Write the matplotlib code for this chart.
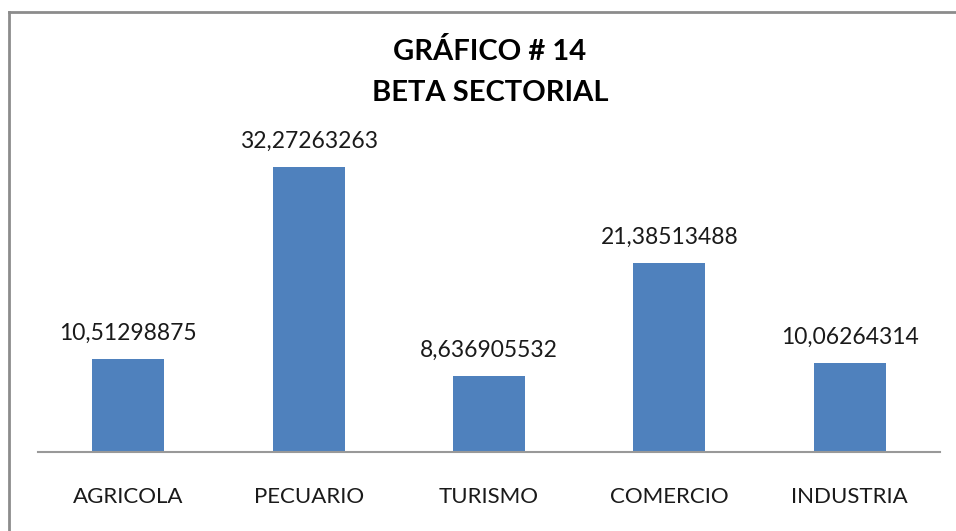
import matplotlib.pyplot as plt
from matplotlib.lines import Line2D

Sectores = ["AGRICOLA", "PECUARIO", "TURISMO", "COMERCIO", "INDUSTRIA"]
Beta     = [10.51298875, 32.27263263, 8.636905532, 21.38513488, 10.06264314]
Etiquetas = ["10,51298875", "32,27263263", "8,636905532", "21,38513488", "10,06264314"]

plt.rcParams['font.family'] = ['Lato', 'DejaVu Sans']

fig = plt.figure(figsize=(9.56, 5.31), dpi=100)
ax = fig.add_axes([38/956, 79/531, 902/956, 309/531])

x = range(len(Sectores))
ax.bar(x, Beta, width=0.4, color="#4F81BD")
for i, v in enumerate(Beta):
    ax.annotate(Etiquetas[i], (i, v), xytext=(0, 11), textcoords="offset points",
                ha="center", va="bottom", fontsize=16.5, color="#1a1a1a")

ax.set_xlim(-0.5, len(Sectores) - 0.5)
ax.set_ylim(0, 35)
ax.set_xticks(list(x))
ax.set_xticklabels(Sectores, fontsize=16, color="#1a1a1a")
ax.tick_params(axis="x", length=0, pad=25)
ax.set_yticks([])
for s in ["left", "right", "top"]:
    ax.spines[s].set_visible(False)
ax.spines["bottom"].set_color("#999999")
ax.spines["bottom"].set_linewidth(1.5)

fig.text(490/956, 1 - 52/531, "GRÁFICO # 14", ha="center", va="center",
         fontsize=21, fontweight="bold")
fig.text(490/956, 1 - 93/531, "BETA SECTORIAL", ha="center", va="center",
         fontsize=21, fontweight="bold")

# borde del grafico (solo se ve arriba y a la izquierda)
fig.add_artist(Line2D([9/956, 9/956], [0, 1 - 12/531], transform=fig.transFigure,
                      color="#8c8c8c", linewidth=2))
fig.add_artist(Line2D([9/956, 1], [1 - 12/531, 1 - 12/531], transform=fig.transFigure,
                      color="#8c8c8c", linewidth=2))

plt.savefig("out.png", dpi=100)
plt.close()
